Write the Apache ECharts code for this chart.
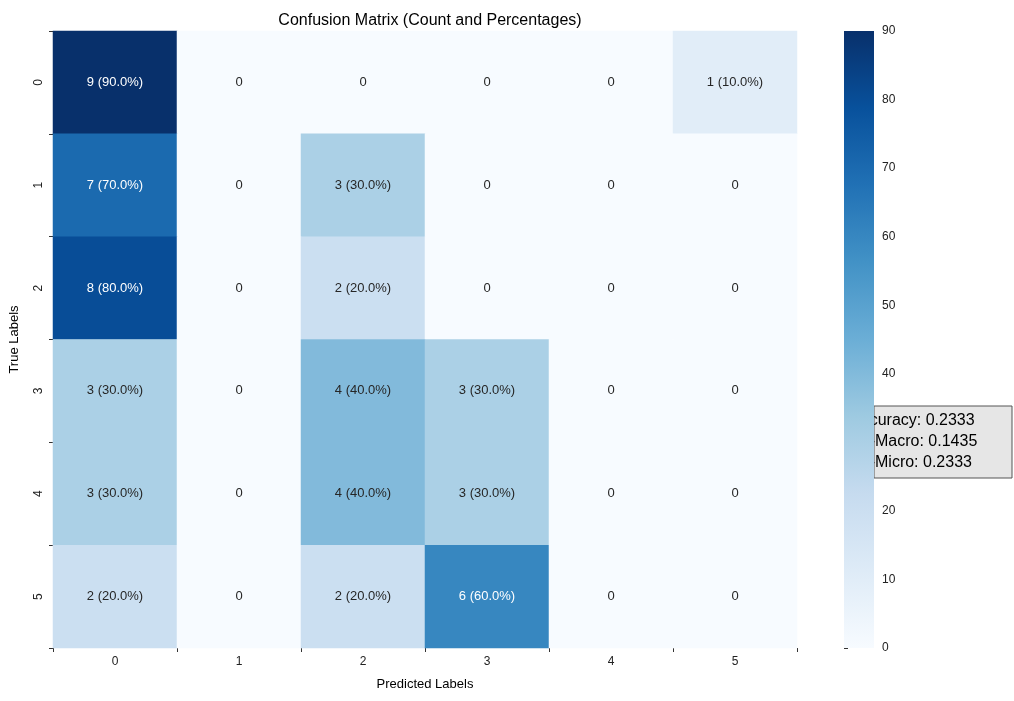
<!DOCTYPE html>
<html><head><meta charset="utf-8">
<script src="https://cdn.jsdelivr.net/npm/echarts@6/dist/echarts.min.js"></script>
<style>html,body{margin:0;background:#fff}#main{width:1014px;height:701px}</style>
</head><body><div id="main"></div>
<script>
const labels = ['0', '1', '2', '3', '4', '5'];
const counts = [
  [9, 0, 0, 0, 0, 1],
  [7, 0, 3, 0, 0, 0],
  [8, 0, 2, 0, 0, 0],
  [3, 0, 4, 3, 0, 0],
  [3, 0, 4, 3, 0, 0],
  [2, 0, 2, 6, 0, 0]
];
const rowTotals = [10, 10, 10, 10, 10, 10];
const cbTicks = [0, 10, 20, 30, 40, 50, 60, 70, 80, 90];
const metrics = ['Accuracy: 0.2333', 'F1-Macro: 0.1435', 'F1-Micro: 0.2333'];
const blues = ['#f7fbff', '#deebf7', '#c6dbef', '#9ecae1', '#6baed6', '#4292c6', '#2171b5', '#08519c', '#08306b'];

const data = [];
counts.forEach((row, r) => row.forEach((c, col) => {
  const pct = c / rowTotals[r] * 100;
  data.push({
    value: [col, r, pct, c],
    label: { color: pct > 50 ? '#fff' : '#262626' }
  });
}));

const chart = echarts.init(document.getElementById('main'));
const axisCommon = {
  axisLine: { show: false },
  axisTick: { show: true, length: 4, lineStyle: { color: '#333' } },
  axisLabel: { color: '#222', fontSize: 12 },
  splitLine: { show: false }
};
chart.setOption({
  animation: false,
  title: { text: 'Confusion Matrix (Count and Percentages)', left: 425, top: 8, textAlign: 'center',
    textStyle: { fontSize: 16, fontWeight: 'normal', color: '#000' } },
  grid: [
    { left: 53, top: 31, width: 744, height: 617 },
    { left: 844, top: 31, width: 30, height: 617 }
  ],
  xAxis: [
    Object.assign({ type: 'category', data: labels, gridIndex: 0, name: 'Predicted Labels', nameLocation: 'middle', nameGap: 30,
      nameTextStyle: { fontSize: 13, color: '#000' } }, axisCommon),
    { type: 'value', gridIndex: 1, show: false, min: 0, max: 1 }
  ],
  yAxis: [
    Object.assign({ type: 'category', data: labels, gridIndex: 0, inverse: true, name: 'True Labels', nameLocation: 'middle', nameGap: 32,
      nameTextStyle: { fontSize: 13, color: '#000' } }, axisCommon, { axisLabel: { color: '#222', fontSize: 12, rotate: 90 } }),
    Object.assign({ type: 'value', gridIndex: 1, position: 'right', min: 0, max: 90, interval: 10 }, axisCommon)
  ],
  visualMap: { show: false, min: 0, max: 90, dimension: 2, seriesIndex: 0, inRange: { color: blues } },
  series: [{
    type: 'heatmap', xAxisIndex: 0, yAxisIndex: 0, data: data,
    label: { show: true, fontSize: 13,
      formatter: p => p.value[3] === 0 ? '0' : p.value[3] + ' (' + p.value[2].toFixed(1) + '%)' }
  }],
  graphic: [
    { type: 'rect', shape: { x: 874, y: 406, width: 138, height: 72 }, z: 1,
      style: { fill: '#e6e6e6', stroke: '#555', lineWidth: 1 } },
    { type: 'text', x: 851, y: 410, z: 2,
      style: { text: metrics.join('\n'), fontSize: 16, lineHeight: 21, fill: '#000', font: '16px DejaVu Sans' } },
    { type: 'rect', shape: { x: 844, y: 31, width: 30, height: 617 }, z: 3,
      style: { fill: new echarts.graphic.LinearGradient(0, 1, 0, 0,
        blues.map((c, i) => ({ offset: i / (blues.length - 1), color: c }))) } }
  ]
});
</script></body></html>
